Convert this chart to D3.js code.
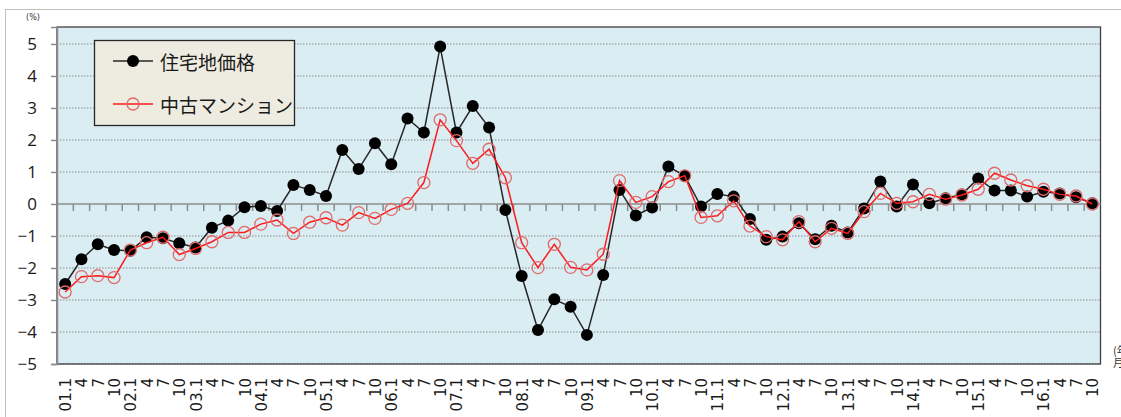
<!doctype html>
<html>
<head>
<meta charset="utf-8">
<style>
  body { margin: 0; background: #fff; }
  svg { display: block; }
</style>
</head>
<body>
    <div class="container"></div>

    <script src="https://d3js.org/d3.v7.min.js"></script>

    <script>
        // quarters, 2001 Q1 .. 2016 Q4
        const categories = [
            '01.1','01.4','01.7','01.10','02.1','02.4','02.7','02.10',
            '03.1','03.4','03.7','03.10','04.1','04.4','04.7','04.10',
            '05.1','05.4','05.7','05.10','06.1','06.4','06.7','06.10',
            '07.1','07.4','07.7','07.10','08.1','08.4','08.7','08.10',
            '09.1','09.4','09.7','09.10','10.1','10.4','10.7','10.10',
            '11.1','11.4','11.7','11.10','12.1','12.4','12.7','12.10',
            '13.1','13.4','13.7','13.10','14.1','14.4','14.7','14.10',
            '15.1','15.4','15.7','15.10','16.1','16.4','16.7','16.10'
        ];
        const tickLabels = [
            '01.1','4','7','10','02.1','4','7','10',
            '03.1','4','7','10','04.1','4','7','10',
            '05.1','4','7','10','06.1','4','7','10',
            '07.1','4','7','10','08.1','4','7','10',
            '09.1','4','7','10','10.1','4','7','10',
            '11.1','4','7','10','12.1','4','7','10',
            '13.1','4','7','10','14.1','4','7','10',
            '15.1','4','7','10','16.1','4','7','10'
        ];
        // 住宅地価格
        const landPrice = [
            -2.50, -1.73, -1.26, -1.44, -1.46, -1.04, -1.07, -1.23,
            -1.36, -0.74, -0.52, -0.10, -0.06, -0.22,  0.59,  0.44,
             0.25,  1.69,  1.09,  1.90,  1.24,  2.67,  2.23,  4.92,
             2.23,  3.06,  2.39, -0.19, -2.25, -3.94, -2.98, -3.21,
            -4.09, -2.22,  0.44, -0.36, -0.11,  1.17,  0.88, -0.08,
             0.31,  0.23, -0.47, -1.12, -1.02, -0.60, -1.10, -0.68,
            -0.89, -0.14,  0.70, -0.08,  0.61,  0.02,  0.18,  0.30,
             0.80,  0.42,  0.42,  0.23,  0.38,  0.33,  0.21,  0.02
        ];
        // 中古マンション
        const usedCondo = [
            -2.75, -2.27, -2.24, -2.30, -1.44, -1.21, -1.04, -1.58,
            -1.39, -1.18, -0.89, -0.89, -0.63, -0.50, -0.92, -0.57,
            -0.43, -0.66, -0.27, -0.45, -0.17,  0.02,  0.67,  2.63,
             1.98,  1.27,  1.71,  0.82, -1.21, -1.99, -1.26, -1.98,
            -2.06, -1.57,  0.73,  0.05,  0.23,  0.70,  0.88, -0.42,
            -0.37,  0.10, -0.69, -1.02, -1.12, -0.55, -1.18, -0.76,
            -0.92, -0.24,  0.33,  0.02,  0.07,  0.30,  0.15,  0.28,
             0.46,  0.96,  0.75,  0.57,  0.46,  0.30,  0.25,  0.00
        ];
        const yTicks = [-5, -4, -3, -2, -1, 0, 1, 2, 3, 4, 5];

        const W = 1121, H = 417;
        const pl = 57, pr = 1100.5, pt = 27, pb = 364;

        const svg = d3.select('.container').append('svg')
            .attr('width', W).attr('height', H);

        // outer chart frame
        svg.append('rect')
            .attr('x', 5.5).attr('y', 9.5).attr('width', W + 20).attr('height', H + 20)
            .attr('fill', '#fff').attr('stroke', '#bfbfbf');

        const x = d3.scaleBand().domain(categories).range([pl, pr]);
        const y = d3.scaleLinear().domain([-5, 5.53]).range([pb, pt]);
        const cx = d => x(d) + x.bandwidth() / 2;

        // plot area
        svg.append('rect')
            .attr('x', pl).attr('y', pt)
            .attr('width', pr - pl).attr('height', pb - pt)
            .attr('fill', '#daedf3');

        // grid
        svg.append('g').selectAll('line')
            .data(yTicks.filter(v => v !== 0))
            .enter().append('line')
            .attr('x1', pl).attr('x2', pr)
            .attr('y1', d => y(d)).attr('y2', d => y(d))
            .attr('stroke', '#8c8c8c').attr('stroke-width', 1)
            .attr('stroke-dasharray', '1.5,1.5');

        // plot border
        svg.append('rect')
            .attr('x', pl).attr('y', pt)
            .attr('width', pr - pl).attr('height', pb - pt)
            .attr('fill', 'none').attr('stroke', '#404040').attr('stroke-width', 1.3);

        // y axis
        const yAxis = svg.append('g')
            .attr('transform', `translate(${pl},0)`)
            .call(d3.axisLeft(y).tickValues(yTicks).tickSize(6).tickPadding(14).tickFormat(d3.format('d')));
        yAxis.select('.domain').attr('stroke', '#8c8c8c').attr('stroke-width', 1.5);
        yAxis.selectAll('.tick line').attr('stroke', '#8c8c8c').attr('stroke-width', 1.5);
        yAxis.selectAll('.tick text')
            .attr('font-family', '"Open Sans", "DejaVu Sans", sans-serif')
            .attr('font-size', 17).attr('fill', '#1a1a1a');

        svg.append('text')
            .attr('x', 33).attr('y', 20)
            .attr('text-anchor', 'middle')
            .attr('font-family', '"DejaVu Sans", sans-serif')
            .attr('font-size', 8).attr('fill', '#333')
            .text('(%)');

        // zero line with category ticks
        svg.append('line')
            .attr('x1', pl).attr('x2', pr)
            .attr('y1', y(0)).attr('y2', y(0))
            .attr('stroke', '#8c8c8c').attr('stroke-width', 1.5);
        svg.append('g').selectAll('line')
            .data(categories.slice(1))
            .enter().append('line')
            .attr('x1', d => x(d)).attr('x2', d => x(d))
            .attr('y1', y(0)).attr('y2', y(0) + 7)
            .attr('stroke', '#8c8c8c').attr('stroke-width', 1.5);

        // x labels, rotated
        svg.append('g').selectAll('text')
            .data(categories)
            .enter().append('text')
            .attr('transform', d => `translate(${cx(d) + 1},378) rotate(-90)`)
            .attr('text-anchor', 'end')
            .attr('dominant-baseline', 'central')
            .attr('font-family', '"DejaVu Sans", sans-serif')
            .attr('font-size', 15).attr('fill', '#1a1a1a')
            .text((d, i) => tickLabels[i]);

        // unit label at the right edge (mostly cut off in the original)
        const unit = svg.append('text')
            .attr('font-family', '"Noto Sans CJK JP", sans-serif')
            .attr('font-size', 11).attr('fill', '#333');
        unit.append('tspan').attr('x', 1113).attr('y', 355).text('(年/');
        unit.append('tspan').attr('x', 1113).attr('y', 367).text('月)');

        const line = d3.line().x((d, i) => cx(categories[i])).y(d => y(d));

        // 住宅地価格
        svg.append('path').datum(landPrice)
            .attr('d', line).attr('fill', 'none')
            .attr('stroke', '#262626').attr('stroke-width', 1.5);
        svg.append('g').selectAll('circle')
            .data(landPrice)
            .enter().append('circle')
            .attr('cx', (d, i) => cx(categories[i])).attr('cy', d => y(d))
            .attr('r', 6).attr('fill', '#000');

        // 中古マンション
        svg.append('path').datum(usedCondo)
            .attr('d', line).attr('fill', 'none')
            .attr('stroke', '#ff1a1a').attr('stroke-width', 1.5);
        svg.append('g').selectAll('circle')
            .data(usedCondo)
            .enter().append('circle')
            .attr('cx', (d, i) => cx(categories[i])).attr('cy', d => y(d))
            .attr('r', 6).attr('fill', 'none')
            .attr('stroke', '#e06a6a').attr('stroke-width', 1.3);

        // legend
        const lg = svg.append('g');
        lg.append('rect')
            .attr('x', 94.5).attr('y', 40.5).attr('width', 200).attr('height', 85)
            .attr('fill', '#eeece1').attr('stroke', '#262626').attr('stroke-width', 1.3);
        const items = [
            { name: '住宅地価格', stroke: '#262626', fill: '#000', mk: '#000', yy: 61 },
            { name: '中古マンション', stroke: '#ff1a1a', fill: 'none', mk: '#e06a6a', yy: 104 }
        ];
        items.forEach(it => {
            lg.append('line')
                .attr('x1', 113).attr('x2', 153).attr('y1', it.yy).attr('y2', it.yy)
                .attr('stroke', it.stroke).attr('stroke-width', 1.5);
            lg.append('circle')
                .attr('cx', 133).attr('cy', it.yy).attr('r', 6)
                .attr('fill', it.fill).attr('stroke', it.fill === 'none' ? it.mk : 'none')
                .attr('stroke-width', 1.3);
            lg.append('text')
                .attr('x', 160).attr('y', it.yy)
                .attr('dominant-baseline', 'central')
                .attr('font-family', '"Noto Sans CJK JP", sans-serif')
                .attr('font-size', 19).attr('fill', '#1a1a1a')
                .text(it.name);
        });
    </script>
</body>
</html>
